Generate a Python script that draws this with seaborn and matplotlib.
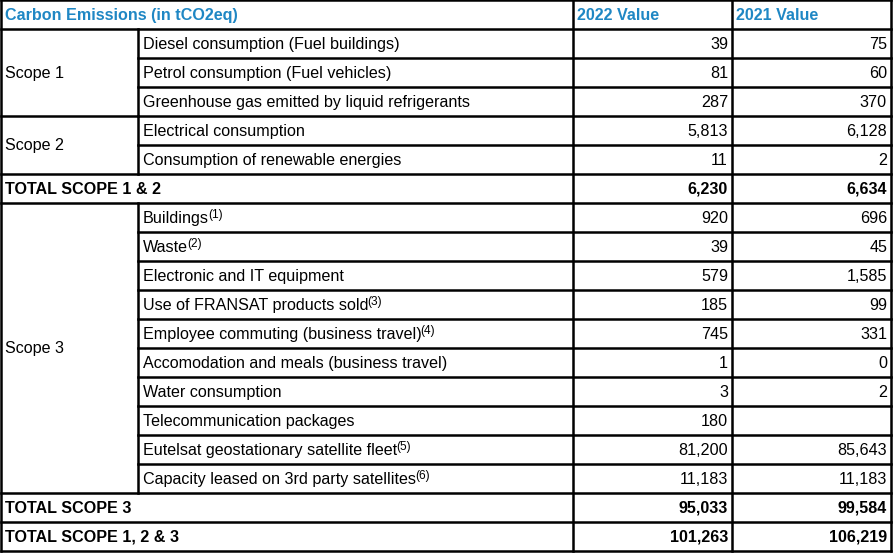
import matplotlib.pyplot as plt
import seaborn as sns

# table content
title = "Carbon Emissions (in tCO2eq)"
year_cols = ["2022 Value", "2021 Value"]

scope1_items = ["Diesel consumption (Fuel buildings)",
                "Petrol consumption (Fuel vehicles)",
                "Greenhouse gas emitted by liquid refrigerants"]
scope1_2022 = ["39", "81", "287"]
scope1_2021 = ["75", "60", "370"]

scope2_items = ["Electrical consumption",
                "Consumption of renewable energies"]
scope2_2022 = ["5,813", "11"]
scope2_2021 = ["6,128", "2"]

total12 = ("TOTAL SCOPE 1 & 2", "6,230", "6,634")

scope3_items = ["Buildings", "Waste", "Electronic and IT equipment",
                "Use of FRANSAT products sold",
                "Employee commuting (business travel)",
                "Accomodation and meals (business travel)",
                "Water consumption", "Telecommunication packages",
                "Eutelsat geostationary satellite fleet",
                "Capacity leased on 3rd party satellites"]
scope3_notes = ["(1)", "(2)", "", "(3)", "(4)", "", "", "", "(5)", "(6)"]
scope3_2022 = ["920", "39", "579", "185", "745", "1", "3", "180",
               "81,200", "11,183"]
scope3_2021 = ["696", "45", "1,585", "99", "331", "0", "2", "",
               "85,643", "11,183"]

total3 = ("TOTAL SCOPE 3", "95,033", "99,584")
total123 = ("TOTAL SCOPE 1, 2 & 3", "101,263", "106,219")

sns.set_theme(style="white")
plt.rcParams['font.family'] = ['Liberation Sans', 'DejaVu Sans']
plt.rcParams['text.color'] = 'black'

blue = '#1f87c4'
fs = 11.6
lw = 1.8
rh = 29
base = 19.8  # baseline offset inside a row
X0, X1, X2, X3, X4 = 1, 138, 573, 732, 891

fig = plt.figure(figsize=(8.93, 5.53), dpi=100)
ax = fig.add_axes([0, 0, 1, 1])
ax.set_xlim(0, 893)
ax.set_ylim(553, 0)
ax.axis('off')


def hline(y, x0, x1):
    ax.plot([x0, x1], [y, y], color='black', lw=lw, solid_capstyle='projecting')


def vline(x, y0, y1):
    ax.plot([x, x], [y0, y1], color='black', lw=lw, solid_capstyle='projecting')


def txt(x, y, s, **kw):
    return ax.text(x, y, s, fontsize=fs, va='baseline', **kw)


def values(r, a, b, bold=False):
    yb = r * rh + base
    w = 'bold' if bold else 'normal'
    txt(X3 - 4, yb, a, ha='right', fontweight=w)
    txt(X4 - 4, yb, b, ha='right', fontweight=w)


# header
txt(X0 + 4, base, title, color=blue, fontweight='bold')
for xc, t in zip([X2 + 4, X3 + 4], year_cols):
    txt(xc, base, t, color=blue, fontweight='bold')

sections = [
    ("group", "Scope 1", scope1_items, [""] * 3, scope1_2022, scope1_2021),
    ("group", "Scope 2", scope2_items, [""] * 2, scope2_2022, scope2_2021),
    ("total",) + total12,
    ("group", "Scope 3", scope3_items, scope3_notes, scope3_2022, scope3_2021),
    ("total",) + total3,
    ("total",) + total123,
]

row = 1
for sec in sections:
    if sec[0] == "total":
        _, name, v22, v21 = sec
        txt(X0 + 4, row * rh + base, name, fontweight='bold')
        values(row, v22, v21, bold=True)
        hline(row * rh, X0, X4)
        row += 1
        continue
    _, grp, items, notes, a22, a21 = sec
    n = len(items)
    hline(row * rh, X0, X4)
    txt(X0 + 4, row * rh + (n - 1) * rh / 2 + base, grp)
    vline(X1, row * rh, (row + n) * rh)
    for i in range(n):
        r = row + i
        if i > 0:
            hline(r * rh, X1, X4)
        t = txt(X1 + 5, r * rh + base, items[i])
        if notes[i]:
            # footnote mark as a small raised text right after the label
            ax.annotate(notes[i], xy=(1, 0.55), xycoords=t,
                        xytext=(-0.8, 0), textcoords='offset points',
                        fontsize=fs * 0.74, va='baseline', ha='left')
        values(r, a22[i], a21[i])
    row += n

bottom = row * rh
hline(0, X0, X4)
hline(bottom, X0, X4)
vline(X0, 0, bottom)
vline(X4, 0, bottom)
vline(X2, 0, bottom)
vline(X3, 0, bottom)

fig.savefig("out.png", dpi=100, facecolor='white')
